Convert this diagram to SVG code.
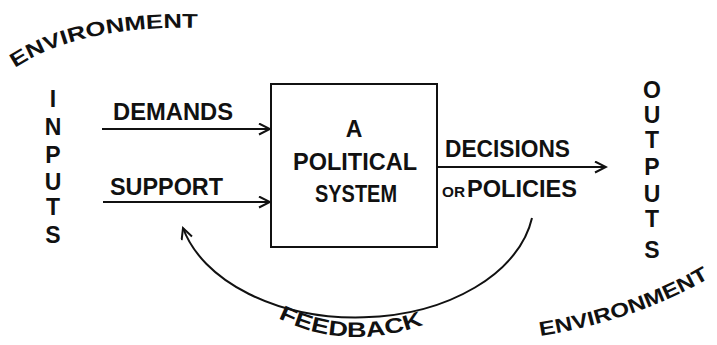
<svg xmlns="http://www.w3.org/2000/svg" width="717" height="345" viewBox="0 0 717 345">
<style>
.t{font-family:"Liberation Sans",Arial,sans-serif;font-weight:bold;fill:#111;}
.v{font-size:23px;text-anchor:middle;}
.ln{fill:none;stroke:#111;stroke-width:2;}
</style>
<defs>
<marker id="ah" markerWidth="14" markerHeight="14" refX="12" refY="6" orient="auto" markerUnits="userSpaceOnUse">
<path d="M1,0.5 L12,6 L1,11.5" fill="none" stroke="#111" stroke-width="2"/>
</marker>
<path id="envTop" d="M15,68 Q80,25 200,28"/>
<path id="envBot" d="M540,336 Q640,320 716,274"/>
<path id="fb" d="M278,318 Q355,356 440,318"/>
</defs>
<rect width="717" height="345" fill="#fff"/>
<g id="environment-top">
<text class="t" font-size="20"><textPath href="#envTop" textLength="190" lengthAdjust="spacingAndGlyphs">ENVIRONMENT</textPath></text>
</g>
<g id="inputs">
<text class="t v" x="53" y="107">I</text>
<text class="t v" x="53" y="135">N</text>
<text class="t v" x="53" y="163">P</text>
<text class="t v" x="53" y="190">U</text>
<text class="t v" x="53" y="215">T</text>
<text class="t v" x="53" y="243">S</text>
</g>
<g id="political-system">
<rect x="271" y="84" width="166" height="163" fill="none" stroke="#111" stroke-width="2"/>
<text class="t" font-size="23" x="354" y="137" text-anchor="middle">A</text>
<text class="t" font-size="23" x="293" y="170" textLength="124" lengthAdjust="spacingAndGlyphs">POLITICAL</text>
<text class="t" font-size="23" x="315" y="202" textLength="82" lengthAdjust="spacingAndGlyphs">SYSTEM</text>
</g>
<g id="outputs">
<text class="t v" x="652" y="98">O</text>
<text class="t v" x="652" y="123">U</text>
<text class="t v" x="652" y="148">T</text>
<text class="t v" x="652" y="175">P</text>
<text class="t v" x="652" y="202">U</text>
<text class="t v" x="652" y="227">T</text>
<text class="t v" x="652" y="258" font-size="26">S</text>
</g>
<g id="environment-bottom">
<text class="t" font-size="20"><textPath href="#envBot" textLength="180" lengthAdjust="spacingAndGlyphs">ENVIRONMENT</textPath></text>
</g>
<g id="connectors">
<line class="ln" x1="102" y1="129" x2="270" y2="129" marker-end="url(#ah)"/>
<line class="ln" x1="103" y1="202" x2="270" y2="202" marker-end="url(#ah)"/>
<line class="ln" x1="437" y1="167" x2="606" y2="167" marker-end="url(#ah)"/>
<path class="ln" d="M532,218 A178,117 0 0 1 183,228" marker-end="url(#ah)"/>
<text class="t" font-size="23" x="113" y="120" textLength="120" lengthAdjust="spacingAndGlyphs">DEMANDS</text>
<text class="t" font-size="23" x="110" y="195" textLength="113" lengthAdjust="spacingAndGlyphs">SUPPORT</text>
<text class="t" font-size="23" x="445" y="157" textLength="125" lengthAdjust="spacingAndGlyphs">DECISIONS</text>
<text class="t" font-size="15" x="442" y="197" textLength="23" lengthAdjust="spacingAndGlyphs">OR</text>
<text class="t" font-size="23" x="467" y="197" textLength="110" lengthAdjust="spacingAndGlyphs">POLICIES</text>
<text class="t" font-size="21"><textPath href="#fb" textLength="150" lengthAdjust="spacingAndGlyphs">FEEDBACK</textPath></text>
</g>
</svg>
